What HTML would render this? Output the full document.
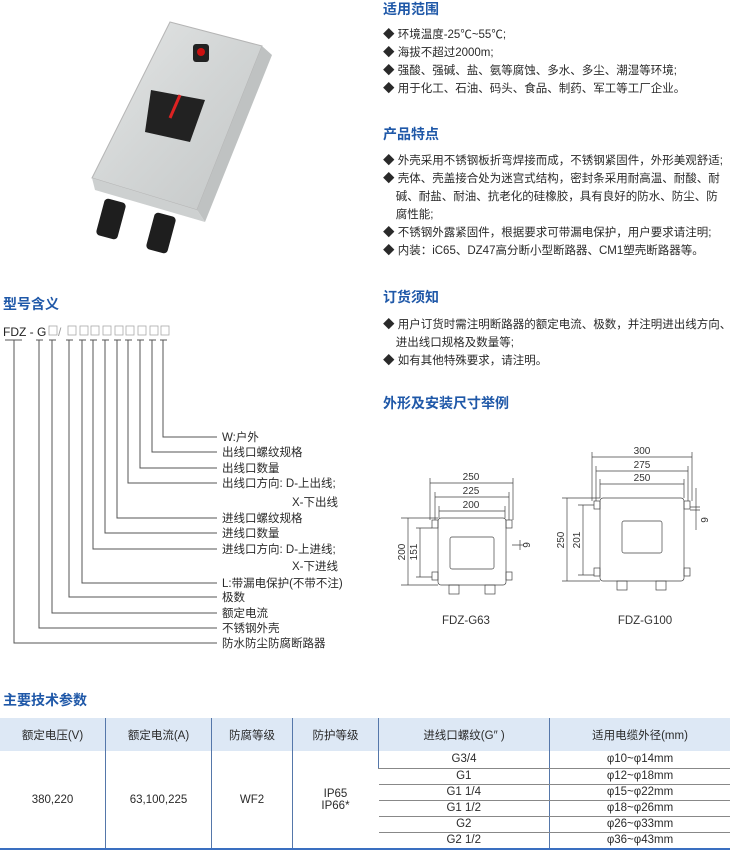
<!DOCTYPE html>
<html><head><meta charset="utf-8"><style>
body{margin:0;width:730px;height:851px;background:#fff;position:relative;overflow:hidden;font-family:"Liberation Sans","Noto Sans CJK SC",sans-serif;color:#2a2a2a}
.h{position:absolute;color:#1f58a8;font-weight:bold;font-size:14px;line-height:16px}
.t{position:absolute;font-size:11.5px;line-height:18px;white-space:nowrap}
table{position:absolute;left:0;top:718px;width:730px;border-collapse:collapse;font-size:11.5px}
td{text-align:center;border-left:1px solid #5577aa;padding:0}
td:first-child{border-left:none}
</style></head><body>
<svg style="position:absolute;left:0;top:0" width="730" height="851">
<defs><linearGradient id="g" x1="0" y1="0" x2="1" y2="1"><stop offset="0" stop-color="#e4e6e6"/><stop offset="0.5" stop-color="#d2d5d5"/><stop offset="1" stop-color="#c4c7c7"/></linearGradient></defs>
<polygon points="170,22 262,46 197,210 92,178" fill="url(#g)" stroke="#b5b5b5"/>
<polygon points="262,46 272,55 205,222 197,210" fill="#bfc2c2"/>
<polygon points="92,178 197,210 205,222 95,190" fill="#cdd0d0"/>
<polygon points="151,90 205,100 190,142 145,132" fill="#222"/>
<line x1="180" y1="95" x2="170" y2="118" stroke="#d22" stroke-width="3"/>
<rect x="193" y="44" width="16" height="18" rx="3" fill="#222"/>
<circle cx="201" cy="52" r="4" fill="#c11"/>
<rect x="100" y="200" width="22" height="38" rx="4" fill="#1e1e1e" transform="rotate(15 111 219)"/>
<rect x="150" y="214" width="22" height="38" rx="4" fill="#1e1e1e" transform="rotate(15 161 233)"/>
<g stroke="#555" stroke-width="1" fill="none">
<line x1="5" y1="340" x2="22" y2="340"/><line x1="36" y1="340" x2="43" y2="340"/>
<line x1="49" y1="340" x2="56" y2="340"/><line x1="66" y1="340" x2="73" y2="340"/><line x1="79" y1="340" x2="86" y2="340"/><line x1="90" y1="340" x2="97" y2="340"/><line x1="102" y1="340" x2="109" y2="340"/><line x1="114" y1="340" x2="121" y2="340"/><line x1="125" y1="340" x2="132" y2="340"/><line x1="137" y1="340" x2="144" y2="340"/><line x1="149" y1="340" x2="156" y2="340"/><line x1="160" y1="340" x2="167" y2="340"/>
<path d="M163 340V437H217M152 340V452H217M140 340V468H217M128 340V483H217M117 340V518H217M105 340V533H217M93 340V549H217M82 340V583H217M69 340V597H217M52 340V613H217M39 340V628H217M14 340V643H217"/>
</g>
<g fill="none" stroke="#aaa" stroke-width="0.8">
<rect x="49" y="326" width="8" height="9"/><rect x="68" y="326" width="8" height="9"/><rect x="80" y="326" width="8" height="9"/><rect x="91" y="326" width="8" height="9"/><rect x="103" y="326" width="8" height="9"/><rect x="115" y="326" width="8" height="9"/><rect x="126" y="326" width="8" height="9"/><rect x="138" y="326" width="8" height="9"/><rect x="150" y="326" width="8" height="9"/><rect x="161" y="326" width="8" height="9"/>
</g>
<text x="3" y="336" font-size="12" fill="#222">FDZ - G</text><text x="58" y="336" font-size="12" fill="#999">/</text>
<g font-size="11.5" fill="#2a2a2a">
<text x="222" y="441">W:户外</text><text x="222" y="456">出线口螺纹规格</text><text x="222" y="472">出线口数量</text><text x="222" y="487">出线口方向:  D-上出线;</text><text x="292" y="506">X-下出线</text>
<text x="222" y="522">进线口螺纹规格</text><text x="222" y="537">进线口数量</text><text x="222" y="553">进线口方向:  D-上进线;</text><text x="292" y="570">X-下进线</text>
<text x="222" y="587">L:带漏电保护(不带不注)</text><text x="222" y="601">极数</text><text x="222" y="617">额定电流</text><text x="222" y="632">不锈钢外壳</text><text x="222" y="647">防水防尘防腐断路器</text>
</g>
<g stroke="#444" stroke-width="0.7" fill="none">
<rect x="438" y="518" width="68" height="67" rx="3"/><rect x="450" y="537" width="44" height="32" rx="2"/>
<rect x="432" y="520" width="6" height="8"/><rect x="506" y="520" width="6" height="8"/><rect x="432" y="572" width="6" height="8"/><rect x="506" y="572" width="6" height="8"/>
<rect x="449" y="585" width="10" height="9"/><rect x="485" y="585" width="10" height="9"/>
<path d="M430 478V520M513 478V520M435 492V520M509 492V520M439 506V518M505 506V518"/>
<path d="M430 483H513M435 497H509M439 511H505M408 518V585M420 528V577M401 518H438M401 585H438M416 528H432M416 577H432M520 540V550M512 545H524"/>
<rect x="600" y="498" width="84" height="83" rx="3"/><rect x="622" y="521" width="40" height="32" rx="2"/>
<rect x="594" y="501" width="6" height="8"/><rect x="684" y="501" width="6" height="8"/><rect x="594" y="568" width="6" height="8"/><rect x="684" y="568" width="6" height="8"/>
<rect x="617" y="581" width="10" height="9"/><rect x="656" y="581" width="10" height="9"/>
<path d="M592 452V501M692 452V501M596 466V501M688 466V501M600 479V498M684 479V498"/>
<path d="M592 457H692M596 471H688M600 484H684M567 498V581M583 505V575M562 498H600M562 581H600M578 505H594M578 575H594M696 488V530M690 507H700M690 510H700"/>
</g>
<g font-size="10" fill="#333" text-anchor="middle">
<text x="471" y="480">250</text><text x="471" y="494">225</text><text x="471" y="508">200</text>
<text x="642" y="454">300</text><text x="642" y="468">275</text><text x="642" y="481">250</text>
<text transform="translate(405 552) rotate(-90)">200</text><text transform="translate(417 552) rotate(-90)">151</text><text transform="translate(530 545) rotate(-90)">9</text>
<text transform="translate(564 540) rotate(-90)">250</text><text transform="translate(580 540) rotate(-90)">201</text><text transform="translate(708 520) rotate(-90)">9</text>
<text x="466" y="624" font-size="11.5">FDZ-G63</text><text x="645" y="624" font-size="11.5">FDZ-G100</text>
</g>
</svg>
<div class="h" style="left:383px;top:1px">适用范围</div>
<div class="t" style="left:383px;top:26px">◆ 环境温度-25℃~55℃;<br>◆ 海拔不超过2000m;<br>◆ 强酸、强碱、盐、氨等腐蚀、多水、多尘、潮湿等环境;<br>◆ 用于化工、石油、码头、食品、制药、军工等工厂企业。</div>
<div class="h" style="left:383px;top:126px">产品特点</div>
<div class="t" style="left:383px;top:152px">◆ 外壳采用不锈钢板折弯焊接而成，不锈钢紧固件，外形美观舒适;<br>◆ 壳体、壳盖接合处为迷宫式结构，密封条采用耐高温、耐酸、耐<br>&nbsp;&nbsp;&nbsp;&nbsp;碱、耐盐、耐油、抗老化的硅橡胶，具有良好的防水、防尘、防<br>&nbsp;&nbsp;&nbsp;&nbsp;腐性能;<br>◆ 不锈钢外露紧固件，根据要求可带漏电保护，用户要求请注明;<br>◆ 内装：iC65、DZ47高分断小型断路器、CM1塑壳断路器等。</div>
<div class="h" style="left:383px;top:289px">订货须知</div>
<div class="t" style="left:383px;top:316px">◆ 用户订货时需注明断路器的额定电流、极数，并注明进出线方向、<br>&nbsp;&nbsp;&nbsp;&nbsp;进出线口规格及数量等;<br>◆ 如有其他特殊要求，请注明。</div>
<div class="h" style="left:383px;top:395px">外形及安装尺寸举例</div>
<div class="h" style="left:3px;top:296px">型号含义</div>
<div class="h" style="left:3px;top:692px">主要技术参数</div>
<table>
<tr style="background:#dde8f5;height:33px"><td style="width:105px">额定电压(V)</td><td style="width:105px">额定电流(A)</td><td style="width:80px">防腐等级</td><td style="width:85px">防护等级</td><td style="width:170px">进线口螺纹(G″ )</td><td>适用电缆外径(mm)</td></tr>
<tr style="height:17px"><td rowspan="6">380,220</td><td rowspan="6">63,100,225</td><td rowspan="6">WF2</td><td rowspan="6">IP65<br>IP66*</td><td style="border-bottom:1px solid #888">G3/4</td><td style="border-bottom:1px solid #888">φ10~φ14mm</td></tr>
<tr style="height:16px"><td style="border-bottom:1px solid #888">G1</td><td style="border-bottom:1px solid #888">φ12~φ18mm</td></tr>
<tr style="height:16px"><td style="border-bottom:1px solid #888">G1 1/4</td><td style="border-bottom:1px solid #888">φ15~φ22mm</td></tr>
<tr style="height:16px"><td style="border-bottom:1px solid #888">G1 1/2</td><td style="border-bottom:1px solid #888">φ18~φ26mm</td></tr>
<tr style="height:16px"><td style="border-bottom:1px solid #888">G2</td><td style="border-bottom:1px solid #888">φ26~φ33mm</td></tr>
<tr style="height:16px"><td>G2 1/2</td><td>φ36~φ43mm</td></tr>
</table>
<div style="position:absolute;left:0;top:848px;width:730px;height:2px;background:#3a6fc0"></div>
</body></html>
